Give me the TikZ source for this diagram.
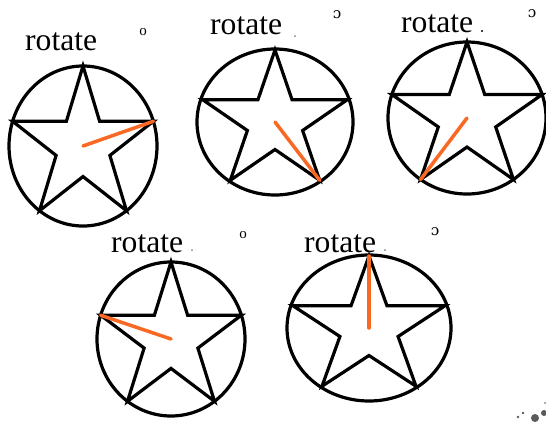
\documentclass[tikz,border=0pt]{standalone}
\usepackage{fontspec}
\setmainfont{Liberation Serif}
\newfontfamily\ipafont{DejaVu Serif}
\usepackage{tikz}
\usetikzlibrary{shapes.geometric}
\definecolor{needleorange}{RGB}{250,105,35}
\definecolor{specklegray}{RGB}{90,90,90}

\begin{document}
\begin{tikzpicture}[
    x=1pt, y=-1pt,
    ring/.style={ellipse, draw=black, line width=3.2pt, inner sep=0pt},
    starshape/.style={star, star points=5, star point ratio=2.618, draw=black, line width=3.2pt, minimum size=100pt, inner sep=0pt, outer sep=0pt},
    rotlabel/.style={anchor=base west, inner sep=0pt, font=\fontsize{31.6}{36}\selectfont},
    degmark/.style={inner sep=0pt, font=\fontsize{15}{15}\selectfont},
    needle/.style={line width=3.5pt, draw=needleorange, line cap=round}
]
\useasboundingbox (0,0) rectangle (546,424);

% top row
\node[rotlabel] (text1) at (25,50) {rotate};
\node[degmark] (deg1) at (143,32) {o};
\node[ring, minimum width=148pt, minimum height=160pt] (ring1) at (83,146) {};
\node[starshape, xscale=1.48, yscale=1.60] (star1) at (ring1.center) {};
\draw[needle] (star1.center) -- (star1.outer point 5);

\node[rotlabel] (text2) at (210,34) {rotate};
\fill[gray] (295,36) circle (1pt);
\node[degmark] (deg2) at (337,15) {\ipafont ɔ};
\node[ring, minimum width=156pt, minimum height=146pt] (ring2) at (275,122) {};
\node[starshape, xscale=1.52, yscale=1.44] (star2) at (ring2.center) {};
\draw[needle] (star2.center) -- (star2.outer point 4);

\node[rotlabel] (text3) at (401,32) {rotate};
\fill[black] (482,31) circle (1.2pt);
\node[degmark] (deg3) at (532,14) {\ipafont ɔ};
\node[ring, minimum width=158pt, minimum height=152pt] (ring3) at (467,118) {};
\node[starshape, xscale=1.58, yscale=1.52] (star3) at (ring3.center) {};
\draw[needle] (star3.center) -- (star3.outer point 3);

% bottom row
\node[rotlabel] (text4) at (111,252) {rotate};
\fill[gray] (192,250) circle (1pt);
\node[degmark] (deg4) at (243,235) {o};
\node[ring, minimum width=148pt, minimum height=154pt] (ring4) at (171,339) {};
\node[starshape, xscale=1.48, yscale=1.54] (star4) at (ring4.center) {};
\draw[needle] (star4.center) -- (star4.outer point 2);

\node[rotlabel] (text5) at (304,252) {rotate};
\fill[gray] (385,250) circle (1pt);
\node[degmark] (deg5) at (435,232) {\ipafont ɔ};
\node[ring, minimum width=164pt, minimum height=146pt] (ring5) at (369,328) {};
\node[starshape, xscale=1.60, yscale=1.44] (star5) at (ring5.center) {};
\draw[needle] (star5.center) -- (star5.outer point 1);

% specks in the corner
\fill[specklegray] (518,417) circle (1.3pt) (523,413) circle (1.3pt) (535,418) circle (4pt) (544,413) circle (3pt) (545,403) circle (0.8pt);

\end{tikzpicture}
\end{document}
